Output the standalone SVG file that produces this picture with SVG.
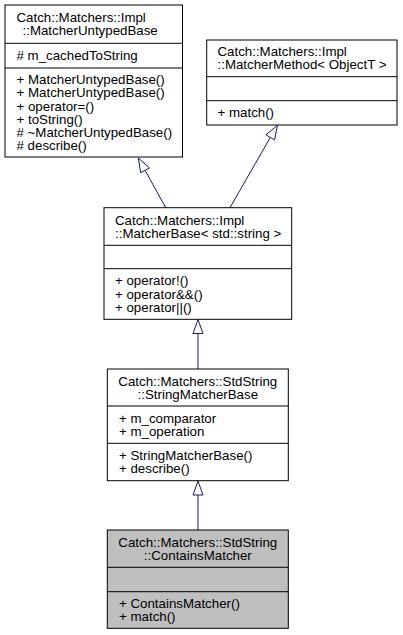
<svg xmlns="http://www.w3.org/2000/svg" width="403" height="635" viewBox="0 0 403 635">
  <style>
    .box { fill: #ffffff; stroke: #000000; stroke-width: 1; }
    .cur { fill: #bfbfbf; stroke: #000000; stroke-width: 1; }
    .sep { stroke: #000000; stroke-width: 1; }
    text { font-family: "Liberation Sans", Arial, Helvetica, sans-serif; font-size: 13.3px; fill: #000000; }
    .mid { text-anchor: middle; }
    .edge { stroke: #191970; stroke-width: 1; fill: none; }
    .head { stroke: #191970; stroke-width: 1; fill: #ffffff; }
  </style>
  <rect width="403" height="635" fill="#ffffff"/>

  <!-- inheritance connectors -->
  <g id="edges">
    <path class="edge" d="M165.7,207.7 L145.1,170.3"/>
    <polygon class="head" points="138.3,158 149.5,167.9 140.7,172.7"/>
    <path class="edge" d="M230,207.7 L270.3,137.4"/>
    <polygon class="head" points="277.3,125.3 274.6,139.9 266,134.9"/>
    <path class="edge" d="M198,369 L198,333.5"/>
    <polygon class="head" points="198,319.5 203,333.5 193,333.5"/>
    <path class="edge" d="M198,530 L198,495"/>
    <polygon class="head" points="198,481 203,495 193,495"/>
  </g>

  <g id="MatcherUntypedBase">
    <rect class="box" x="5" y="5" width="177.5" height="152"/>
    <line class="sep" x1="5" y1="43.3" x2="182.5" y2="43.3"/>
    <line class="sep" x1="5" y1="68" x2="182.5" y2="68"/>
    <text x="16.5" y="22.1">Catch::Matchers::Impl</text>
    <text x="22.5" y="35.2">::MatcherUntypedBase</text>
    <text x="16.5" y="60.2"># m_cachedToString</text>
    <text x="16.5" y="84.3">+ MatcherUntypedBase()</text>
    <text x="16.5" y="97.4">+ MatcherUntypedBase()</text>
    <text x="16.5" y="110.5">+ operator=()</text>
    <text x="16.5" y="123.6">+ toString()</text>
    <text x="16.5" y="136.7"># ~MatcherUntypedBase()</text>
    <text x="16.5" y="149.8"># describe()</text>
  </g>

  <g id="MatcherMethod">
    <rect class="box" x="206.7" y="40" width="190.3" height="85"/>
    <line class="sep" x1="206.7" y1="76.7" x2="397" y2="76.7"/>
    <line class="sep" x1="206.7" y1="100.7" x2="397" y2="100.7"/>
    <text x="217.5" y="56.3">Catch::Matchers::Impl</text>
    <text x="217.5" y="69.4">::MatcherMethod&lt; ObjectT &gt;</text>
    <text x="217.5" y="117.4">+ match()</text>
  </g>

  <g id="MatcherBase">
    <rect class="box" x="104" y="207.7" width="187.7" height="111.6"/>
    <line class="sep" x1="104" y1="245.3" x2="291.7" y2="245.3"/>
    <line class="sep" x1="104" y1="268.7" x2="291.7" y2="268.7"/>
    <text x="115" y="224.5">Catch::Matchers::Impl</text>
    <text x="115" y="237.6">::MatcherBase&lt; std::string &gt;</text>
    <text x="115" y="285.4">+ operator!()</text>
    <text x="115" y="298.5">+ operator&amp;&amp;()</text>
    <text x="115" y="311.6">+ operator||()</text>
  </g>

  <g id="StringMatcherBase">
    <rect class="box" x="107.3" y="369" width="181" height="111.7"/>
    <line class="sep" x1="107.3" y1="406" x2="288.3" y2="406"/>
    <line class="sep" x1="107.3" y1="443.3" x2="288.3" y2="443.3"/>
    <text class="mid" x="197.8" y="385.5">Catch::Matchers::StdString</text>
    <text class="mid" x="197.8" y="398.6">::StringMatcherBase</text>
    <text x="119" y="422.6">+ m_comparator</text>
    <text x="119" y="435.7">+ m_operation</text>
    <text x="119" y="460">+ StringMatcherBase()</text>
    <text x="119" y="473.1">+ describe()</text>
  </g>

  <g id="ContainsMatcher">
    <rect class="cur" x="107.3" y="530" width="181" height="98.3"/>
    <line class="sep" x1="107.3" y1="567.3" x2="288.3" y2="567.3"/>
    <line class="sep" x1="107.3" y1="591.7" x2="288.3" y2="591.7"/>
    <text class="mid" x="197.8" y="546.6">Catch::Matchers::StdString</text>
    <text class="mid" x="197.8" y="559.7">::ContainsMatcher</text>
    <text x="119" y="608">+ ContainsMatcher()</text>
    <text x="119" y="621.1">+ match()</text>
  </g>
</svg>
